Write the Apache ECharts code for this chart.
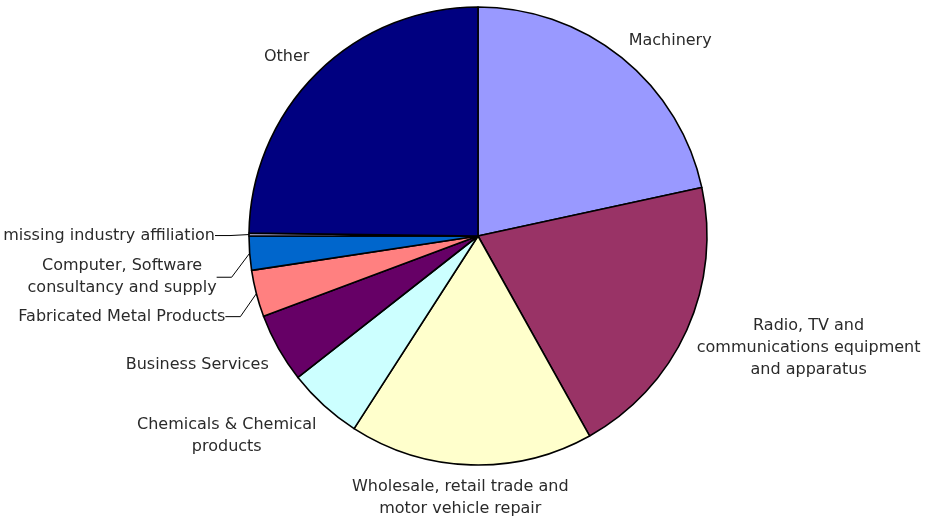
<!DOCTYPE html>
<html>
<head>
<meta charset="utf-8">
<script src="https://cdn.jsdelivr.net/npm/echarts@6/dist/echarts.min.js"></script>
<style>
  html, body { margin: 0; padding: 0; background: #ffffff; }
  #chart { width: 928px; height: 519px; }
</style>
</head>
<body>
<div id="chart"></div>
<script>
// Industry shares (percent), clockwise from 12 o'clock
const categories = [
  'Machinery',
  'Radio, TV and\ncommunications equipment\nand apparatus',
  'Wholesale, retail trade and\nmotor vehicle repair',
  'Chemicals & Chemical\nproducts',
  'Business Services',
  'Fabricated Metal Products',
  'Computer, Software\nconsultancy and supply',
  'missing industry affiliation',
  'Other'
];
const shares = [21.6, 20.3, 17.2, 5.3, 4.9, 3.3, 2.4, 0.2, 24.8];

// Slice fills
const sliceColors = ['#9999FF', '#993366', '#FFFFCC', '#CCFFFF', '#660066',
                     '#FF8080', '#0066CC', '#CCCCFF', '#000080'];

// Pie geometry
const CX = 478, CY = 236, R = 229;
const LABEL_GAP = 11;

// Labels of thin slices sit off to the left, joined by a leader line:
// shift of the label's right-middle point from the slice's outer mid point
const leaderShift = { 5: [-31, 23], 6: [-33, 24], 7: [-34, 1] };
// Extra nudge for labels placed along the mid-angle ray
const labelNudge = { 0: [0, 3], 1: [0, -20], 8: [0, 3] };

const total = shares.reduce((a, b) => a + b, 0);
const midAngles = [];
let acc = 0;
shares.forEach(v => {
  midAngles.push((acc + v / 2) / total * Math.PI * 2);
  acc += v;
});

const clamp = v => Math.max(-1, Math.min(1, v));

function placeLabel(params) {
  const i = params.dataIndex;
  const a = midAngles[i];
  const dx = Math.sin(a), dy = -Math.cos(a);
  const w = params.labelRect.width, h = params.labelRect.height;
  if (leaderShift[i]) {
    const ax = CX + R * dx, ay = CY + R * dy;
    const s = leaderShift[i];
    return { x: ax + s[0] - w / 2, y: ay + s[1], align: 'center', verticalAlign: 'middle' };
  }
  const px = CX + (R + LABEL_GAP) * dx, py = CY + (R + LABEL_GAP) * dy;
  const n = labelNudge[i] || [0, 0];
  return {
    x: px + w / 2 * clamp(3 * dx) + n[0],
    y: py + h / 2 * clamp(3 * dy) + n[1],
    align: 'center',
    verticalAlign: 'middle'
  };
}

const chart = echarts.init(document.getElementById('chart'), null, { renderer: 'canvas' });

chart.setOption({
  backgroundColor: '#ffffff',
  animation: false,
  series: [{
    type: 'pie',
    center: [CX, CY],
    radius: R,
    startAngle: 90,
    clockwise: true,
    avoidLabelOverlap: false,
    emphasis: { disabled: true },
    itemStyle: { borderColor: '#000000', borderWidth: 1.6 },
    label: {
      show: true,
      position: 'outside',
      fontFamily: 'DejaVu Sans',
      fontSize: 16,
      lineHeight: 22,
      color: '#2a2a2a',
      align: 'center'
    },
    labelLine: { show: false, length: 0, length2: 15,
                 lineStyle: { color: '#000000', width: 1 } },
    labelLayout: placeLabel,
    data: categories.map((name, i) => ({
      name: name,
      value: shares[i],
      itemStyle: { color: sliceColors[i] },
      labelLine: { show: leaderShift[i] !== undefined, length: 0, length2: 15,
                   smooth: false, minTurnAngle: 60 }
    }))
  }]
});
</script>
</body>
</html>
